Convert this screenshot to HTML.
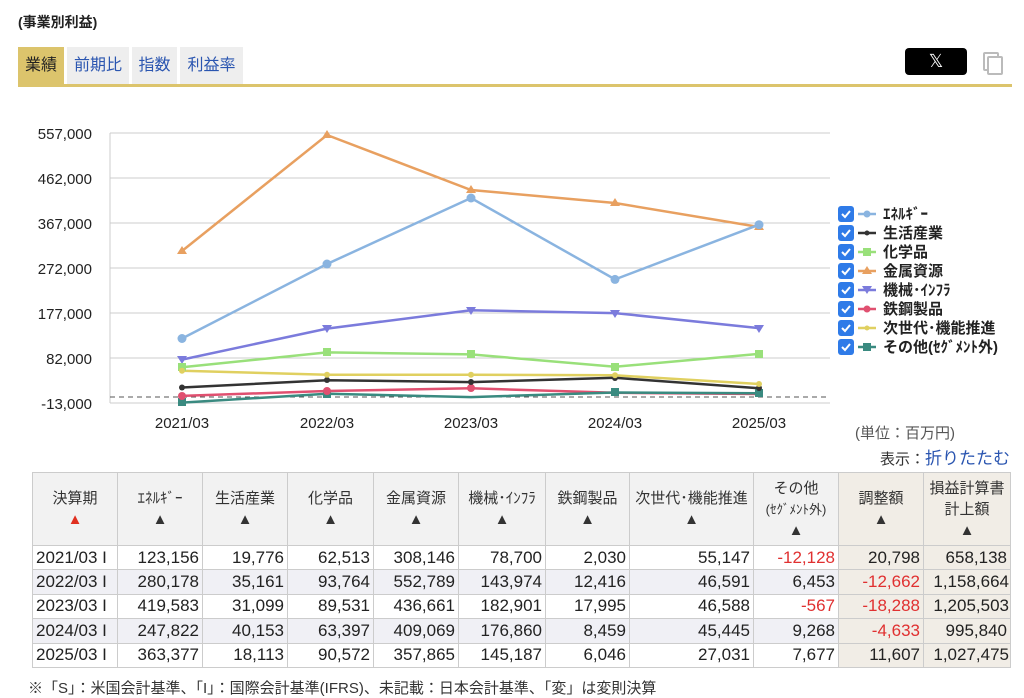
<!DOCTYPE html>
<html><head><meta charset="utf-8"><style>
body{margin:0;width:1024px;height:684px;overflow:hidden;background:#fff;font-family:"Liberation Sans","Noto Sans CJK JP",sans-serif;color:#222;position:relative}
.abs{position:absolute}
table{position:absolute;left:32px;top:472px;border-collapse:collapse;font-size:17px;table-layout:fixed;width:978px}
td,th{border:1px solid #ccc;padding:0 3px;height:23.4px;text-align:right;white-space:nowrap;overflow:hidden}
th{font-weight:normal;text-align:center;background:#f2f2f2;height:72px;font-size:15px;line-height:21px;color:#333}
tr.a td{background:#f0f0f5}
.b{background:#f1ede6!important}
.r{color:#e03030}
td:first-child{text-align:left}
</style></head><body>
<div class="abs" style="left:18px;top:12px;font-size:14px;font-weight:bold">(事業別利益)</div>
<div class="abs" style="left:18px;top:47px;width:46px;height:37px;background:#dcc46c;font-size:16px;line-height:37px;text-align:center;color:#222">業績</div>
<div class="abs" style="left:67px;top:47px;width:62px;height:37px;background:#eee;font-size:16px;line-height:37px;text-align:center;color:#2a55b0">前期比</div>
<div class="abs" style="left:132px;top:47px;width:45px;height:37px;background:#eee;font-size:16px;line-height:37px;text-align:center;color:#2a55b0">指数</div>
<div class="abs" style="left:180px;top:47px;width:63px;height:37px;background:#eee;font-size:16px;line-height:37px;text-align:center;color:#2a55b0">利益率</div>
<div class="abs" style="left:18px;top:84px;width:994px;height:3px;background:#dcc46c"></div>
<div class="abs" style="left:905px;top:48px;width:62px;height:27px;background:#000;border-radius:4px;color:#fff;text-align:center;line-height:27px;font-size:18px">𝕏</div>
<div class="abs" style="left:983px;top:52px;width:12px;height:15px;border:2px solid #bbb;border-radius:2px"></div>
<div class="abs" style="left:987px;top:56px;width:12px;height:15px;border:2px solid #bbb;background:#fff;border-radius:2px"></div>

<svg class="abs" style="left:0;top:0" width="1024" height="470" font-family="Liberation Sans, sans-serif">
<g stroke="#ccc" stroke-width="1">
<line x1="110" y1="133" x2="830" y2="133"/><line x1="110" y1="178" x2="830" y2="178"/><line x1="110" y1="223" x2="830" y2="223"/><line x1="110" y1="268" x2="830" y2="268"/><line x1="110" y1="313" x2="830" y2="313"/><line x1="110" y1="358" x2="830" y2="358"/><line x1="110" y1="403" x2="830" y2="403"/>
<line x1="110" y1="133" x2="110" y2="403"/>
</g>
<line x1="110" y1="397" x2="830" y2="397" stroke="#555" stroke-dasharray="5,4"/>
<g font-size="15" fill="#222" text-anchor="end">
<text x="92" y="139">557,000</text><text x="92" y="184">462,000</text><text x="92" y="229">367,000</text><text x="92" y="274">272,000</text><text x="92" y="319">177,000</text><text x="92" y="364">82,000</text><text x="92" y="409">-13,000</text>
</g>
<g font-size="15" fill="#222" text-anchor="middle">
<text x="182" y="428">2021/03</text><text x="327" y="428">2022/03</text><text x="471" y="428">2023/03</text><text x="615" y="428">2024/03</text><text x="759" y="428">2025/03</text>
</g>
<g fill="none" stroke-width="2.5">
<polyline stroke="#e8a060" points="182,251 327,135 471,190 615,203 759,227"/>
<polyline stroke="#8ab4e0" points="182,338.5 327,264 471,198 615,279.4 759,224.7"/>
<polyline stroke="#7b7bdc" points="182,359.6 327,328.6 471,310.2 615,313.1 759,328.1"/>
<polyline stroke="#99e07a" points="182,367.2 327,352.4 471,354.4 615,366.8 759,353.9"/>
<polyline stroke="#e0d060" points="182,370.7 327,374.8 471,374.8 615,375.3 759,384"/>
<polyline stroke="#333" points="182,387.5 327,380.2 471,382.1 615,377.8 759,388.3"/>
<polyline stroke="#e05070" points="182,395.9 327,391 471,388.3 615,392.8 759,394"/>
<polyline stroke="#3a8a80" points="182,402.6 327,393.8 471,397.1 615,392.5 759,393.2"/>
</g>
<g fill="#e8a060"><path d="M182,246l5,8h-10z"/><path d="M327,130l5,8h-10z"/><path d="M471,185l5,8h-10z"/><path d="M615,198l5,8h-10z"/><path d="M759,222l5,8h-10z"/></g>
<g fill="#8ab4e0"><circle cx="182" cy="338.5" r="4.5"/><circle cx="327" cy="264" r="4.5"/><circle cx="471" cy="198" r="4.5"/><circle cx="615" cy="279.4" r="4.5"/><circle cx="759" cy="224.7" r="4.5"/></g>
<g fill="#7b7bdc"><path d="M177,356h10l-5,8z"/><path d="M322,325h10l-5,8z"/><path d="M466,307h10l-5,8z"/><path d="M610,310h10l-5,8z"/><path d="M754,325h10l-5,8z"/></g>
<g fill="#99e07a"><rect x="178" y="363" width="8" height="8"/><rect x="323" y="348" width="8" height="8"/><rect x="467" y="350" width="8" height="8"/><rect x="611" y="363" width="8" height="8"/><rect x="755" y="350" width="8" height="8"/></g>
<g fill="#3a8a80"><rect x="178" y="398" width="8" height="8"/><rect x="323" y="390" width="8" height="8"/><rect x="611" y="388" width="8" height="8"/><rect x="755" y="389" width="8" height="8"/></g>
<g fill="#e05070"><circle cx="182" cy="396" r="4"/><circle cx="327" cy="391" r="4"/><circle cx="471" cy="388" r="4"/></g>
<g fill="#333"><circle cx="182" cy="387.5" r="3"/><circle cx="327" cy="380" r="3"/><circle cx="471" cy="382" r="3"/><circle cx="615" cy="378" r="3"/><circle cx="759" cy="388" r="3"/></g>
<g fill="#e0d060"><circle cx="182" cy="370.7" r="3"/><circle cx="327" cy="374.8" r="3"/><circle cx="471" cy="374.8" r="3"/><circle cx="615" cy="375.3" r="3"/><circle cx="759" cy="384" r="3"/></g>
<g font-size="15" font-weight="bold" fill="#222" font-family="Liberation Sans, Noto Sans CJK JP, sans-serif">
<g transform="translate(838,206)"><rect width="16" height="16" rx="3" fill="#2f7be8"/><path d="M4,8l3,3 5,-6" stroke="#fff" stroke-width="2" fill="none"/><line x1="20" y1="8" x2="38" y2="8" stroke="#8ab4e0" stroke-width="2.5"/><circle cx="29" cy="8" r="3.5" fill="#8ab4e0"/><text x="45" y="13">ｴﾈﾙｷﾞｰ</text></g>
<g transform="translate(838,225)"><rect width="16" height="16" rx="3" fill="#2f7be8"/><path d="M4,8l3,3 5,-6" stroke="#fff" stroke-width="2" fill="none"/><line x1="20" y1="8" x2="38" y2="8" stroke="#333" stroke-width="2.5"/><circle cx="29" cy="8" r="2.5" fill="#333"/><text x="45" y="13">生活産業</text></g>
<g transform="translate(838,244)"><rect width="16" height="16" rx="3" fill="#2f7be8"/><path d="M4,8l3,3 5,-6" stroke="#fff" stroke-width="2" fill="none"/><line x1="20" y1="8" x2="38" y2="8" stroke="#99e07a" stroke-width="2.5"/><rect x="25" y="4" width="8" height="8" fill="#99e07a"/><text x="45" y="13">化学品</text></g>
<g transform="translate(838,263)"><rect width="16" height="16" rx="3" fill="#2f7be8"/><path d="M4,8l3,3 5,-6" stroke="#fff" stroke-width="2" fill="none"/><line x1="20" y1="8" x2="38" y2="8" stroke="#e8a060" stroke-width="2.5"/><path d="M29,3l5,8h-10z" fill="#e8a060"/><text x="45" y="13">金属資源</text></g>
<g transform="translate(838,282)"><rect width="16" height="16" rx="3" fill="#2f7be8"/><path d="M4,8l3,3 5,-6" stroke="#fff" stroke-width="2" fill="none"/><line x1="20" y1="8" x2="38" y2="8" stroke="#7b7bdc" stroke-width="2.5"/><path d="M24,4h10l-5,8z" fill="#7b7bdc"/><text x="45" y="13">機械･ｲﾝﾌﾗ</text></g>
<g transform="translate(838,301)"><rect width="16" height="16" rx="3" fill="#2f7be8"/><path d="M4,8l3,3 5,-6" stroke="#fff" stroke-width="2" fill="none"/><line x1="20" y1="8" x2="38" y2="8" stroke="#e05070" stroke-width="2.5"/><circle cx="29" cy="8" r="3.5" fill="#e05070"/><text x="45" y="13">鉄鋼製品</text></g>
<g transform="translate(838,320)"><rect width="16" height="16" rx="3" fill="#2f7be8"/><path d="M4,8l3,3 5,-6" stroke="#fff" stroke-width="2" fill="none"/><line x1="20" y1="8" x2="38" y2="8" stroke="#e0d060" stroke-width="2.5"/><circle cx="29" cy="8" r="2.5" fill="#e0d060"/><text x="45" y="13">次世代･機能推進</text></g>
<g transform="translate(838,339)"><rect width="16" height="16" rx="3" fill="#2f7be8"/><path d="M4,8l3,3 5,-6" stroke="#fff" stroke-width="2" fill="none"/><line x1="20" y1="8" x2="38" y2="8" stroke="#3a8a80" stroke-width="2.5"/><rect x="25" y="4" width="8" height="8" fill="#3a8a80"/><text x="45" y="13">その他(ｾｸﾞﾒﾝﾄ外)</text></g>
</g>
<text x="955" y="438" font-size="15" fill="#555" text-anchor="end" font-family="Liberation Sans, Noto Sans CJK JP, sans-serif">(単位：百万円)</text>
<text x="880" y="464" font-size="15" fill="#333" font-family="Liberation Sans, Noto Sans CJK JP, sans-serif">表示：<tspan fill="#2a55b0" font-size="17">折りたたむ</tspan></text>
</svg>

<table>
<colgroup><col style="width:85px"><col style="width:85px"><col style="width:85px"><col style="width:86px"><col style="width:85px"><col style="width:87px"><col style="width:84px"><col style="width:124px"><col style="width:85px"><col style="width:85px"><col style="width:87px"></colgroup>
<tr><th>決算期<br><span style="color:#e03020">▲</span></th><th>ｴﾈﾙｷﾞｰ<br>▲</th><th>生活産業<br>▲</th><th>化学品<br>▲</th><th>金属資源<br>▲</th><th>機械･ｲﾝﾌﾗ<br>▲</th><th>鉄鋼製品<br>▲</th><th>次世代･機能推進<br>▲</th><th>その他<br><span style="font-size:13px">(ｾｸﾞﾒﾝﾄ外)</span><br>▲</th><th class="b">調整額<br>▲</th><th class="b">損益計算書<br>計上額<br>▲</th></tr>
<tr><td>2021/03 I</td><td>123,156</td><td>19,776</td><td>62,513</td><td>308,146</td><td>78,700</td><td>2,030</td><td>55,147</td><td class="r">-12,128</td><td class="b">20,798</td><td class="b">658,138</td></tr>
<tr class="a"><td>2022/03 I</td><td>280,178</td><td>35,161</td><td>93,764</td><td>552,789</td><td>143,974</td><td>12,416</td><td>46,591</td><td>6,453</td><td class="b r">-12,662</td><td class="b" style="padding:0 1px">1,158,664</td></tr>
<tr><td>2023/03 I</td><td>419,583</td><td>31,099</td><td>89,531</td><td>436,661</td><td>182,901</td><td>17,995</td><td>46,588</td><td class="r">-567</td><td class="b r">-18,288</td><td class="b" style="padding:0 1px">1,205,503</td></tr>
<tr class="a"><td>2024/03 I</td><td>247,822</td><td>40,153</td><td>63,397</td><td>409,069</td><td>176,860</td><td>8,459</td><td>45,445</td><td>9,268</td><td class="b r">-4,633</td><td class="b">995,840</td></tr>
<tr><td>2025/03 I</td><td>363,377</td><td>18,113</td><td>90,572</td><td>357,865</td><td>145,187</td><td>6,046</td><td>27,031</td><td>7,677</td><td class="b">11,607</td><td class="b" style="padding:0 1px">1,027,475</td></tr>
</table>
<div class="abs" style="left:28px;top:677px;font-size:15px;color:#333;white-space:nowrap">※「S」：米国会計基準、「I」：国際会計基準(IFRS)、未記載：日本会計基準、「変」は変則決算</div>
</body></html>
